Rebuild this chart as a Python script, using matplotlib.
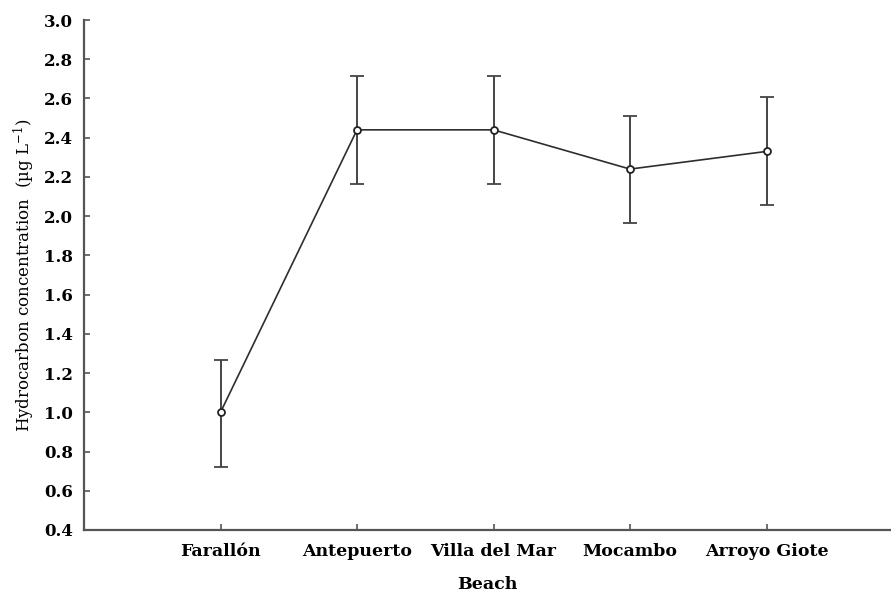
import matplotlib
matplotlib.use("Agg")
import matplotlib.pyplot as plt
import numpy as np

beaches = ["Farallón", "Antepuerto", "Villa del Mar", "Mocambo", "Arroyo Giote"]
means = [1.00, 2.44, 2.44, 2.24, 2.33]
err_upper = [1.265, 2.715, 2.715, 2.51, 2.605]
err_lower = [0.72, 2.165, 2.165, 1.965, 2.055]
yticks = [0.4, 0.6, 0.8, 1.0, 1.2, 1.4, 1.6, 1.8, 2.0, 2.2, 2.4, 2.6, 2.8, 3.0]

plt.rcParams['font.family'] = ['DejaVu Serif']
plt.rcParams['mathtext.fontset'] = 'dejavuserif'

fig = plt.figure(figsize=(8.91, 5.92), dpi=100)
ax = fig.add_axes([84/891, 1-530/592, 1-84/891, (530-20)/592])

x = np.arange(len(beaches))
m = np.array(means)
yerr = np.vstack([m - np.array(err_lower), np.array(err_upper) - m])
col = '#2e2e2e'
ax.errorbar(x, m, yerr=yerr, color=col, lw=1.2, ecolor='#444444', elinewidth=1.4,
            capsize=5.3, capthick=1.4, marker='o', markersize=5, mfc='white',
            mec='#222222', mew=1.3)

ax.set_xlim(-1, (891-84)/136.5 - 1)
ax.set_ylim(0.4, 3.0)
ax.set_yticks(yticks)
ax.set_yticklabels([f"{v:.1f}" for v in yticks], fontweight='bold', fontsize=12)
ax.set_xticks(x)
ax.set_xticklabels(beaches, fontweight='bold', fontsize=12.5)
ax.tick_params(direction='in', length=4, width=1.2, color='#555555', pad=9)
ax.tick_params(axis='y', pad=8)
for s in ['top', 'right']:
    ax.spines[s].set_visible(False)
for s in ['left', 'bottom']:
    ax.spines[s].set_linewidth(1.6)
    ax.spines[s].set_color('#555555')

ax.set_xlabel("Beach", fontweight='bold', fontsize=12.5, labelpad=12)
ax.set_ylabel("Hydrocarbon concentration  (µg L$^{-1}$)", fontsize=12, labelpad=5)

fig.savefig("out.png", dpi=100)
